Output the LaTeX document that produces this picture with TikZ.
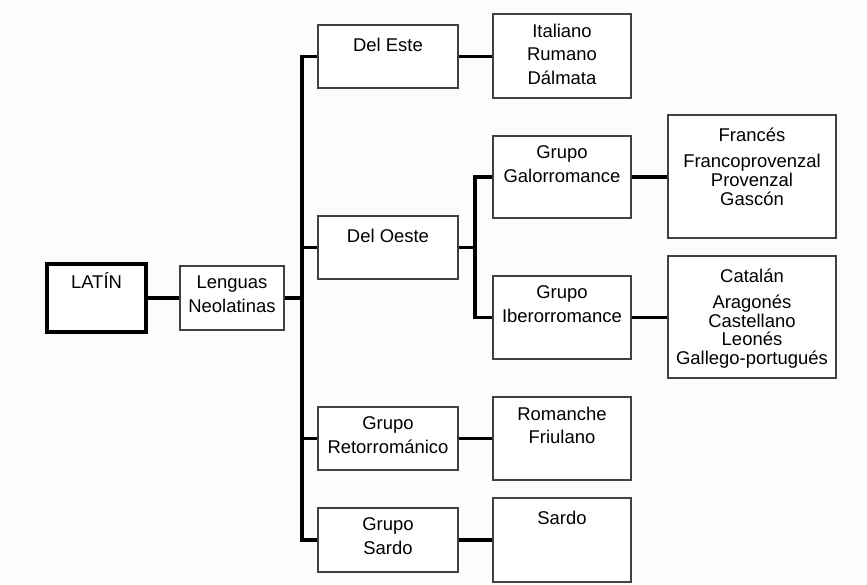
\documentclass[tikz,border=0pt]{standalone}
\usepackage{fontspec}
\setmainfont{Liberation Sans}
\definecolor{fondo}{RGB}{252,252,250}

\begin{document}
\begin{tikzpicture}[x=0.02cm, y=-0.02cm,
        caja/.style={draw=black!75, line width=0.6pt, fill=white, inner sep=0pt},
        txt/.style={anchor=north, yshift=-0.2cm, inner sep=0pt, align=center,
            font=\fontsize{10.5}{13.5}\selectfont, execute at begin node=\strut},
        lista/.style={txt, yshift=-0.07cm, font=\fontsize{10.5}{10.8}\selectfont},
        rama/.style={line width=2.1pt}]
        \useasboundingbox[fill=fondo] (0,0) rectangle (867,585);

        % Raiz
        \node[caja, draw=black, line width=2.4pt, minimum width=1.98cm, minimum height=1.36cm] (latin) at (96.5,298) {};
        \node[txt] (latinT) at (latin.north) {LATÍN};
        \node[caja, minimum width=2.08cm, minimum height=1.28cm] (lenguas) at (232,298) {};
        \node[txt] (lenguasT) at (lenguas.north) {Lenguas\\ Neolatinas};

        % Grupos
        \node[caja, minimum width=2.8cm, minimum height=1.26cm] (deleste) at (388,56.5) {};
        \node[txt] (delesteT) at (deleste.north) {Del Este};
        \node[caja, minimum width=2.8cm, minimum height=1.26cm] (deloeste) at (388,247.5) {};
        \node[txt] (deloesteT) at (deloeste.north) {Del Oeste};
        \node[caja, minimum width=2.8cm, minimum height=1.26cm] (retor) at (388,438.5) {};
        \node[txt] (retorT) at (retor.north) {Grupo\\ Retorrománico};
        \node[caja, minimum width=2.8cm, minimum height=1.28cm] (gsardo) at (388,540) {};
        \node[txt] (gsardoT) at (gsardo.north) {Grupo\\ Sardo};

        % Subgrupos y lenguas
        \node[caja, minimum width=2.76cm, minimum height=1.68cm] (italiano) at (562,56) {};
        \node[txt] (italianoT) at (italiano.north) {Italiano\\ Rumano\\ Dálmata};
        \node[caja, minimum width=2.76cm, minimum height=1.64cm] (galo) at (562,177) {};
        \node[txt] (galoT) at (galo.north) {Grupo\\ Galorromance};
        \node[caja, minimum width=2.76cm, minimum height=1.66cm] (ibero) at (562,317.5) {};
        \node[txt] (iberoT) at (ibero.north) {Grupo\\ Iberorromance};
        \node[caja, minimum width=2.76cm, minimum height=1.66cm] (romanche) at (562,438.5) {};
        \node[txt] (romancheT) at (romanche.north) {Romanche\\ Friulano};
        \node[caja, minimum width=2.76cm, minimum height=1.68cm] (sardo) at (562,540) {};
        \node[txt] (sardoT) at (sardo.north) {Sardo};

        \node[caja, minimum width=3.36cm, minimum height=2.46cm] (frances) at (752,176.5) {};
        \node[lista] (francesT) at (frances.north) {Francés\\[4pt] Francoprovenzal\\ Provenzal\\ Gascón};
        \node[caja, minimum width=3.36cm, minimum height=2.44cm] (catalan) at (752,317) {};
        \node[lista] (catalanT) at (catalan.north) {Catalán\\[3.5pt] Aragonés\\ Castellano\\ Leonés\\ Gallego-portugués};

        % Tronco principal
        \coordinate (tr) at (302,0);
        \draw[rama] (latin) -- (lenguas);
        \draw[rama] (lenguas.east) -- (lenguas.east -| tr);
        \draw[rama] (deleste.west) -- (deleste.west -| tr) -- (gsardo.west -| tr) -- (gsardo.west);
        \foreach \n in {deloeste, retor}
            \draw[rama] (\n.west) -- (\n.west -| tr);

        % Tronco del oeste
        \coordinate (st) at (475,0);
        \draw[rama] (deloeste.east) -- (deloeste.east -| st);
        \draw[rama] (galo.west) -- (galo.west -| st) -- (ibero.west -| st) -- (ibero.west);

        % Ramas a las lenguas
        \draw[rama] (deleste.east) -- (deleste.east -| italiano.west);
        \draw[rama] (galo) -- (frances.west |- galo);
        \draw[rama] (ibero) -- (catalan.west |- ibero);
        \draw[rama] (retor) -- (romanche);
        \draw[rama] (gsardo) -- (sardo);
\end{tikzpicture}
\end{document}
